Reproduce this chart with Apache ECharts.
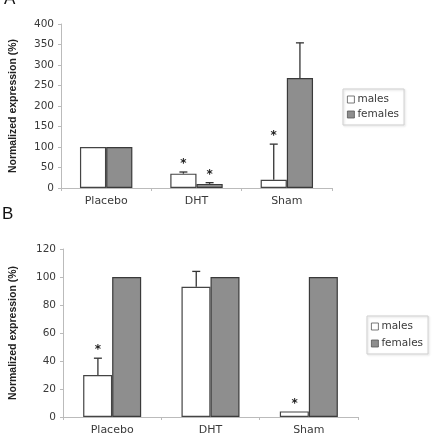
<!DOCTYPE html>
<html>
<head>
<meta charset="utf-8">
<script src="https://cdn.jsdelivr.net/npm/echarts@6/dist/echarts.min.js"></script>
<style>
  html, body { margin: 0; padding: 0; background: #fff; }
  #main { width: 434px; height: 444px; }
</style>
</head>
<body>
<div id="main"></div>
<script>
var categories = ['Placebo', 'DHT', 'Sham'];

// panel A
var malesA = [100, 35, 20];
var femalesA = [100, 10, 268];
var maleErrA = [0, 4, 87];
var femaleErrA = [0, 3, 86];
var maleStarA = [0, 1, 1];
var femaleStarA = [0, 1, 0];

// panel B
var malesB = [30, 93, 4];
var femalesB = [100, 100, 100];
var maleErrB = [12, 11, 0];
var femaleErrB = [0, 0, 0];
var maleStarB = [1, 0, 1];
var femaleStarB = [0, 0, 0];

var txtFont = 'DejaVu Sans';
var txtColor = '#3a3a3a';
var axisGrey = '#bbbbbb';

function errRows(vals, errs, stars, side) {
    var rows = [];
    for (var i = 0; i < vals.length; i++) {
        rows.push([i, vals[i], errs[i], stars[i], side]);
    }
    return rows;
}

function renderErr(params, api) {
    var idx = api.value(0);
    var val = api.value(1);
    var err = api.value(2);
    var star = api.value(3);
    var side = api.value(4);
    var catW = api.size([1, 0])[0];
    var base = api.coord([idx, val]);
    var x = base[0] + side * catW * 0.145;
    var top = api.coord([idx, val + err]);
    var children = [];
    var st = { stroke: '#333', lineWidth: 1.3 };
    if (err > 0) {
        children.push({ type: 'line', shape: { x1: x, y1: base[1], x2: x, y2: top[1] }, style: st });
        children.push({ type: 'line', shape: { x1: x - 4, y1: top[1], x2: x + 4, y2: top[1] }, style: st });
    }
    if (star) {
        children.push({
            type: 'text',
            style: {
                x: x, y: top[1] - 2, text: '*', fill: '#222',
                font: 'bold 12px ' + txtFont, align: 'center', verticalAlign: 'bottom'
            }
        });
    }
    return { type: 'group', children: children };
}

function yAxisCfg(gridIndex, max, interval, gap) {
    return {
        gridIndex: gridIndex, type: 'value', min: 0, max: max, interval: interval,
        name: 'Normalized expression (%)', nameLocation: 'middle', nameGap: gap,
        nameTextStyle: { fontFamily: 'Liberation Sans', fontWeight: 'bold', fontSize: 10.5, color: '#222' },
        axisLine: { show: true, lineStyle: { color: axisGrey, width: 1 } },
        axisTick: { show: true, length: 3, lineStyle: { color: axisGrey } },
        axisLabel: { fontFamily: txtFont, fontSize: 10.5, color: txtColor, margin: 7 },
        splitLine: { show: false }
    };
}

function xAxisCfg(gridIndex) {
    return {
        gridIndex: gridIndex, type: 'category', data: categories,
        axisLine: { lineStyle: { color: axisGrey, width: 1 } },
        axisTick: { show: true, length: 3, lineStyle: { color: axisGrey } },
        axisLabel: { fontFamily: txtFont, fontSize: 11, color: txtColor, margin: 8 }
    };
}

function legendCfg(left, top, gap) {
    return {
        data: [{ name: 'males', icon: 'rect' }, { name: 'females', icon: 'rect' }],
        orient: 'vertical', left: left, top: top,
        itemWidth: 7, itemHeight: 7, itemGap: gap, padding: [5, 5, 5, 4],
        itemStyle: { borderWidth: 0.8, borderColor: '#555' },
        borderColor: '#cfcfcf', borderWidth: 1,
        shadowColor: 'rgba(0,0,0,0.15)', shadowBlur: 2, shadowOffsetX: 1, shadowOffsetY: 1,
        textStyle: { fontFamily: txtFont, fontSize: 10.5, color: txtColor, padding: [0, 0, 0, -2] }
    };
}

var maleStyle = { color: '#ffffff', borderColor: '#444', borderWidth: 1.2 };
var femaleStyle = { color: '#8e8e8e', borderColor: '#3a3a3a', borderWidth: 1.2 };

var option = {
    animation: false,
    backgroundColor: '#fff',
    grid: [
        { left: 58, top: 24, width: 274, height: 164 },
        { left: 61, top: 249, width: 297, height: 168 }
    ],
    xAxis: [xAxisCfg(0), xAxisCfg(1)],
    yAxis: [yAxisCfg(0, 400, 50, 42), yAxisCfg(1, 120, 20, 44)],
    legend: [legendCfg(343, 89, 4), legendCfg(367, 316, 6)],
    graphic: [
        { type: 'text', left: 4, top: -9, style: { text: 'A', font: '17px Liberation Sans', fill: '#111' } },
        { type: 'text', left: 2, top: 206, style: { text: 'B', font: '17px Liberation Sans', fill: '#111' } }
    ],
    series: [
        { name: 'males', type: 'bar', xAxisIndex: 0, yAxisIndex: 0, data: malesA,
          barGap: '0%', barCategoryGap: '42%', itemStyle: maleStyle },
        { name: 'females', type: 'bar', xAxisIndex: 0, yAxisIndex: 0, data: femalesA,
          barGap: '0%', barCategoryGap: '42%', itemStyle: femaleStyle },
        { name: 'males', type: 'bar', xAxisIndex: 1, yAxisIndex: 1, data: malesB,
          barGap: '0%', barCategoryGap: '41%', itemStyle: maleStyle },
        { name: 'females', type: 'bar', xAxisIndex: 1, yAxisIndex: 1, data: femalesB,
          barGap: '0%', barCategoryGap: '41%', itemStyle: femaleStyle },
        { type: 'custom', xAxisIndex: 0, yAxisIndex: 0, renderItem: renderErr, z: 5,
          data: errRows(malesA, maleErrA, maleStarA, -1).concat(errRows(femalesA, femaleErrA, femaleStarA, 1)) },
        { type: 'custom', xAxisIndex: 1, yAxisIndex: 1, renderItem: renderErr, z: 5,
          data: errRows(malesB, maleErrB, maleStarB, -1).concat(errRows(femalesB, femaleErrB, femaleStarB, 1)) }
    ]
};

var myChart = echarts.init(document.getElementById('main'));
myChart.setOption(option);
</script>
</body>
</html>
